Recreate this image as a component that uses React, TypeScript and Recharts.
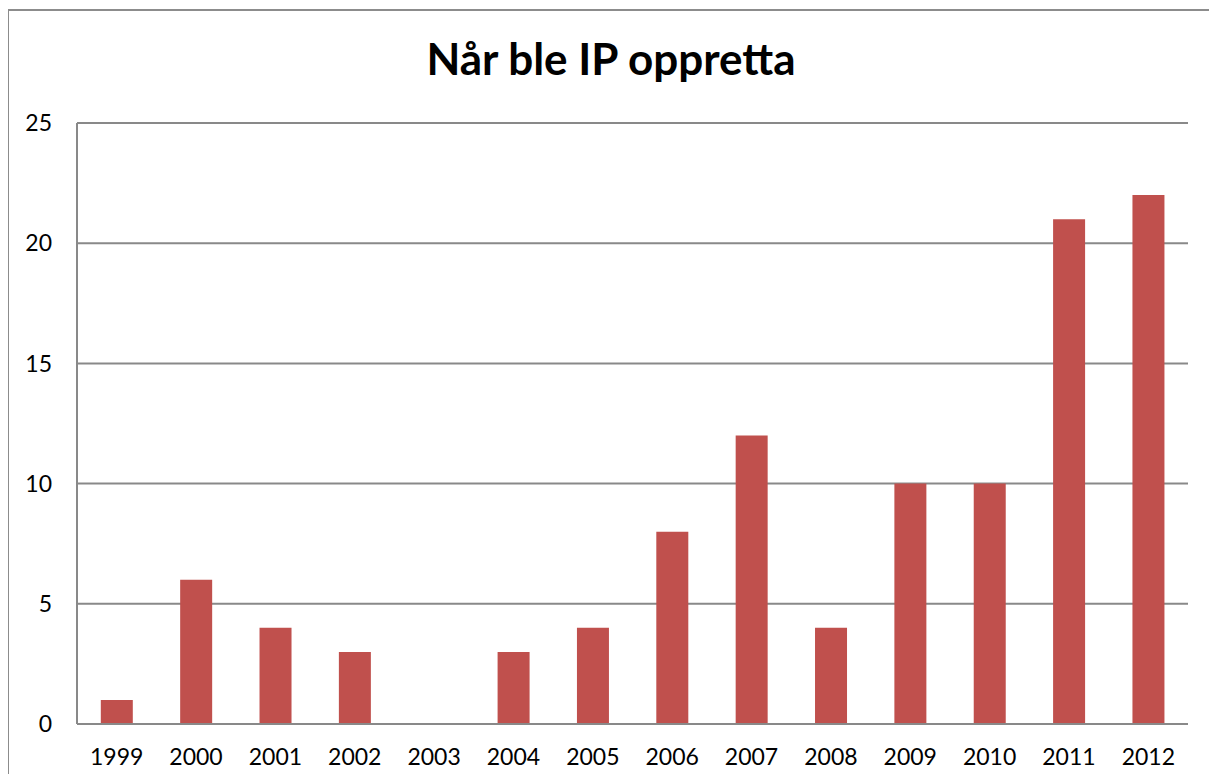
import React from 'react';
import { BarChart, Bar, XAxis, YAxis, CartesianGrid } from 'recharts';

const years = ['1999', '2000', '2001', '2002', '2003', '2004', '2005', '2006', '2007', '2008', '2009', '2010', '2011', '2012'];
const counts = [1, 6, 4, 3, 0, 3, 4, 8, 12, 4, 10, 10, 21, 22];
const yTicks = [0, 5, 10, 15, 20, 25];

const chartData = years.map((year, i) => ({ year, count: counts[i] }));

const FONT = 'Lato, "Open Sans", sans-serif';
const GRID = '#898989';

export default function App() {
  return (
    <div style={{ position: 'relative', width: 1217, height: 782, margin: -8, overflow: 'hidden', background: '#fff' }}>
      {/* outer chart frame, runs past the bottom edge */}
      <div
        style={{
          position: 'absolute',
          left: 7,
          top: 9,
          width: 1207,
          height: 800,
          border: '2px solid #8c8c8c',
        }}
      />
      <div
        style={{
          position: 'absolute',
          left: 0,
          top: 33,
          width: 1222,
          textAlign: 'center',
          fontFamily: FONT,
          fontWeight: 700,
          fontSize: 44,
          lineHeight: '50px',
          color: '#000',
        }}
      >
        Når ble IP oppretta
      </div>
      <div style={{ position: 'absolute', left: 0, top: 0 }}>
        <BarChart
          width={1217}
          height={782}
          data={chartData}
          margin={{ top: 123, right: 29, bottom: 0, left: 0 }}
          barCategoryGap="30%"
        >
          <CartesianGrid vertical={false} stroke={GRID} strokeWidth={2} />
          <XAxis
            dataKey="year"
            height={58}
            tickLine={false}
            tickSize={0}
            tickMargin={25}
            axisLine={{ stroke: GRID, strokeWidth: 2 }}
            tick={{ fill: '#000', fontSize: 23, fontFamily: FONT }}
          />
          <YAxis
            width={77}
            domain={[0, 25]}
            ticks={yTicks}
            tickLine={false}
            tickSize={0}
            tickMargin={25}
            axisLine={{ stroke: GRID, strokeWidth: 2 }}
            tick={{ fill: '#000', fontSize: 23, fontFamily: FONT }}
          />
          <Bar dataKey="count" fill="#C0504D" isAnimationActive={false} />
        </BarChart>
      </div>
    </div>
  );
}
